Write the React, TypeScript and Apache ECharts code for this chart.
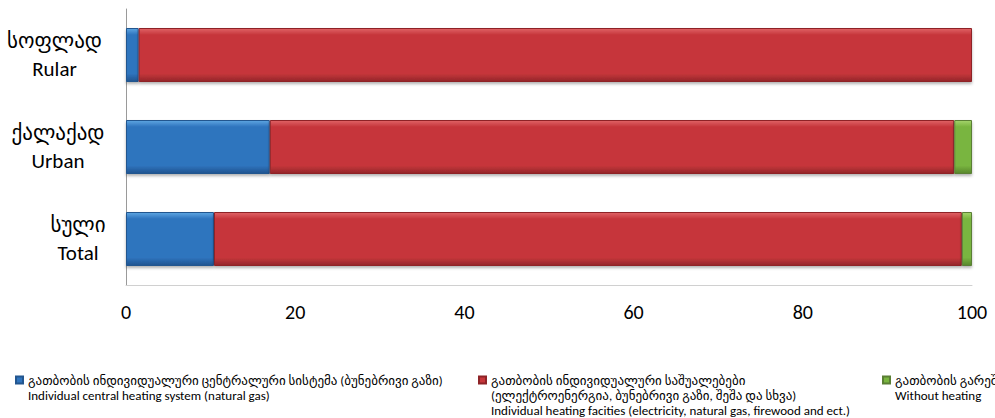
import React, { useEffect, useRef } from "react";
import * as echarts from "echarts";

const categoriesGeo = ["სოფლად", "ქალაქად", "სული"];
const categoriesEng = ["Rular", "Urban", "Total"];
const xTicks = [0, 20, 40, 60, 80, 100];

const seriesNames = [
  "გათბობის ინდივიდუალური ცენტრალური სისტემა (ბუნებრივი გაზი)\nIndividual central heating system (natural gas)",
  "გათბობის ინდივიდუალური საშუალებები\n(ელექტროენერგია, ბუნებრივი გაზი, შეშა და სხვა)\nIndividual heating facities (electricity, natural gas, firewood and ect.)",
  "გათბობის გარეშე\nWithout heating",
];
const centralHeating = [1.5, 17.0, 10.4];
const individualFacilities = [98.5, 80.9, 88.4];
const withoutHeating = [0, 2.1, 1.2];

const palette = [
  { top: "#5ea6e2", mid: "#2f74be", bottom: "#21548f", border: "#23568f" },
  { top: "#e06366", mid: "#c6363b", bottom: "#932629", border: "#8e2327" },
  { top: "#a5d46c", mid: "#79b53f", bottom: "#58862c", border: "#5a7f34" },
];

// width of each category label block, lines are centred inside it (style only)
const labelBlockWidth = [95, 88, 48];

function grad(p: { top: string; mid: string; bottom: string }) {
  return new echarts.graphic.LinearGradient(0, 0, 0, 1, [
    { offset: 0, color: p.top },
    { offset: 0.12, color: p.mid },
    { offset: 0.85, color: p.mid },
    { offset: 1, color: p.bottom },
  ]);
}

const FONT = "Carlito, Calibri, 'DejaVu Sans', sans-serif";

export default function App() {
  const ref = useRef<HTMLDivElement>(null);
  useEffect(() => {
    if (!ref.current) return;
    const chart = echarts.init(ref.current, undefined, { renderer: "svg" });
    const values = [centralHeating, individualFacilities, withoutHeating];
    const lineCounts = seriesNames.map((n) => n.split("\n").length);
    const legendLeft = [15, 478, 882];
    const lh = 15;
    const rich: Record<string, any> = {};
    labelBlockWidth.forEach((w, i) => {
      rich["c" + i] = {
        width: w,
        align: "center",
        fontSize: 21,
        lineHeight: 28,
        color: "#000",
        fontFamily: FONT,
      };
    });
    chart.setOption({
      animation: false,
      backgroundColor: "#ffffff",
      grid: {
        left: 126,
        right: 23,
        top: 9,
        bottom: 133,
        containLabel: false,
        outerBoundsMode: "none",
      },
      xAxis: {
        type: "value",
        min: xTicks[0],
        max: xTicks[xTicks.length - 1],
        interval: 20,
        axisLine: { show: true, lineStyle: { color: "#d0d0d0", width: 1 } },
        axisTick: { show: false },
        splitLine: { show: false },
        axisLabel: {
          margin: 17,
          fontSize: 20,
          color: "#000",
          fontFamily: FONT,
        },
      },
      yAxis: {
        type: "category",
        inverse: true,
        data: categoriesEng,
        axisLine: { show: true, lineStyle: { color: "#9a9a9a", width: 1 } },
        axisTick: { show: false },
        axisLabel: {
          margin: 24,
          align: "right",
          formatter: (_v: string, i: number) =>
            `{c${i}|${categoriesGeo[i]}}\n{c${i}|${categoriesEng[i]}}`,
          rich,
        },
      },
      legend: seriesNames.map((name, i) => ({
        data: [name],
        left: legendLeft[i],
        top: 380 - ((2 * lineCounts[i] - 1) * lh) / 2,
        padding: 0,
        icon: "rect",
        itemWidth: 7,
        itemHeight: 7,
        selectedMode: false,
        formatter: (n: string) => "\n".repeat(lineCounts[i] - 1) + n,
        textStyle: {
          fontSize: 13,
          lineHeight: lh,
          color: "#000",
          fontFamily: FONT,
        },
      })),
      series: seriesNames.map((name, i) => ({
        name,
        type: "bar",
        stack: "total",
        barWidth: 54,
        data: values[i],
        itemStyle: {
          color: grad(palette[i]),
          borderColor: palette[i].border,
          borderWidth: 1,
          shadowColor: "rgba(0,0,0,0.3)",
          shadowBlur: 3,
          shadowOffsetY: 2,
        },
      })),
    });
    return () => chart.dispose();
  }, []);
  return (
    <div
      ref={ref}
      style={{ position: "fixed", left: 0, top: 0, width: 995, height: 418 }}
    />
  );
}
